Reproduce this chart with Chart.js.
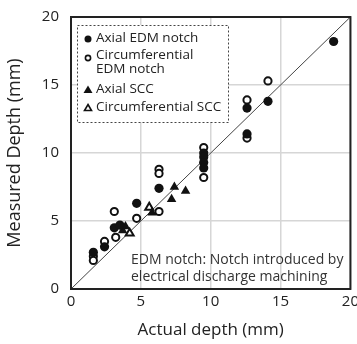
<!DOCTYPE html>
<html>
<head>
<meta charset="utf-8">
<script src="https://cdn.jsdelivr.net/npm/chart.js@4/dist/chart.umd.min.js"></script>
<style>
  html, body { margin: 0; padding: 0; background: #fff; }
  #wrap { width: 357px; height: 344px; position: relative; }
</style>
</head>
<body>
<div id="wrap"><canvas id="chart" width="357" height="344"></canvas></div>
<script>
const FONT = '"Open Sans", "Noto Sans", sans-serif';

// [actual, measured] in mm
const axialEdm = [
  [1.6, 2.7], [2.4, 3.1], [3.1, 4.5], [3.5, 4.7], [4.7, 6.3], [6.3, 7.4],
  [9.5, 10.0], [9.5, 9.7], [9.5, 9.3], [9.5, 8.9], [12.6, 11.4], [12.6, 13.3],
  [14.1, 13.8], [18.8, 18.2]
];
const circEdm = [
  [1.6, 2.4], [1.6, 2.1], [2.4, 3.5], [3.2, 3.8], [3.1, 5.7], [4.7, 5.2],
  [6.3, 5.7], [6.3, 8.8], [6.3, 8.5], [9.5, 10.4], [9.5, 8.2], [12.6, 13.9],
  [12.6, 11.1], [14.1, 15.3]
];
const axialScc = [[3.7, 4.3], [3.9, 4.6], [5.8, 5.6], [7.4, 7.5], [8.2, 7.2], [7.2, 6.6]];
const circScc = [[4.2, 4.1], [5.6, 6.0]];
const refLine = [[0, 0], [20, 20]];

const ticks = [0, 5, 10, 15, 20];
const legendLabels = [['Axial EDM notch'], ['Circumferential', 'EDM notch'], ['Axial SCC'], ['Circumferential SCC']];
const noteLines = ['EDM notch: Notch introduced by', 'electrical discharge machining'];

const pts = arr => arr.map(([x, y]) => ({ x, y }));

const frame = {
  id: 'frame',
  afterDatasetsDraw(chart) {
    const { ctx, chartArea: a } = chart;
    ctx.save();
    // plot border
    ctx.strokeStyle = '#222';
    ctx.lineWidth = 2;
    ctx.strokeRect(a.left, a.top, a.right - a.left, a.bottom - a.top);

    // legend box
    const lx = 77, ly = 25, lw = 151, lh = 97;
    ctx.fillStyle = '#fff';
    ctx.fillRect(lx, ly, lw, lh);
    ctx.setLineDash([2, 2]);
    ctx.lineWidth = 1;
    ctx.strokeStyle = '#444';
    ctx.strokeRect(lx + 0.5, ly + 0.5, lw, lh);
    ctx.setLineDash([]);

    ctx.font = '13.5px ' + FONT;
    ctx.textBaseline = 'middle';
    const rows = [38, 55, 89, 107];
    const mx = 88;
    legendLabels.forEach((lines, i) => {
      const y = rows[i] + (i === 1 ? 3 : 1);
      ctx.fillStyle = '#111';
      ctx.strokeStyle = '#111';
      ctx.lineWidth = 1.6;
      if (i === 0) {
        ctx.beginPath(); ctx.arc(mx, y, 3.5, 0, Math.PI * 2); ctx.fill();
      } else if (i === 1) {
        ctx.beginPath(); ctx.arc(mx, y, 2.6, 0, Math.PI * 2); ctx.stroke();
      } else if (i === 2) {
        ctx.beginPath(); ctx.moveTo(mx, y - 4.5); ctx.lineTo(mx + 4.5, y + 3); ctx.lineTo(mx - 4.5, y + 3); ctx.closePath(); ctx.fill();
      } else {
        ctx.beginPath(); ctx.moveTo(mx, y - 3.5); ctx.lineTo(mx + 3.5, y + 2.5); ctx.lineTo(mx - 3.5, y + 2.5); ctx.closePath(); ctx.stroke();
      }
      ctx.fillStyle = '#222';
      lines.forEach((t, j) => ctx.fillText(t, 96, rows[i] + j * 14));
    });

    // note
    ctx.fillStyle = '#333';
    ctx.font = '14px ' + FONT;
    noteLines.forEach((t, j) => ctx.fillText(t, 131, 260 + j * 17));
    ctx.restore();
  }
};

new Chart(document.getElementById('chart'), {
  type: 'scatter',
  data: {
    datasets: [
      { data: pts(refLine), type: 'line', showLine: true, borderColor: '#444', borderWidth: 1, pointRadius: 0, order: 5 },
      { data: pts(circEdm), pointStyle: 'circle', pointRadius: 3.6, borderWidth: 2, borderColor: '#111', backgroundColor: '#fff', order: 2 },
      { data: pts(axialEdm), pointStyle: 'circle', pointRadius: 4.6, borderWidth: 0, backgroundColor: '#111', order: 1 },
      { data: pts(axialScc), pointStyle: 'triangle', pointRadius: 5.5, borderWidth: 0, backgroundColor: '#111', order: 1 },
      { data: pts(circScc), pointStyle: 'triangle', pointRadius: 4.6, borderWidth: 2, borderColor: '#111', backgroundColor: '#fff', order: 1 }
    ]
  },
  options: {
    responsive: false,
    animation: false,
    devicePixelRatio: 1,
    layout: { padding: { top: 17, right: 4, left: 0, bottom: 0 } },
    plugins: { legend: { display: false }, tooltip: { enabled: false } },
    scales: {
      x: {
        type: 'linear', min: 0, max: 20,
        afterBuildTicks: s => { s.ticks = ticks.map(v => ({ value: v })); },
        afterFit: s => { s.height = 55; s.paddingLeft = 0; s.paddingRight = 0; },
        grid: { color: '#d6d6d6', lineWidth: 1.5, drawTicks: false },
        border: { display: false },
        ticks: { color: '#222', font: { family: FONT, size: 15 }, padding: 4 },
        title: { display: true, text: 'Actual depth (mm)', color: '#222', font: { family: FONT, size: 17 }, padding: { top: 2 } }
      },
      y: {
        type: 'linear', min: 0, max: 20,
        afterBuildTicks: s => { s.ticks = ticks.map(v => ({ value: v })); },
        afterFit: s => { s.width = 71; s.paddingTop = 0; s.paddingBottom = 0; },
        grid: { color: '#d6d6d6', lineWidth: 1.5, drawTicks: false },
        border: { display: false },
        ticks: { color: '#222', font: { family: FONT, size: 15 }, padding: 12 },
        title: { display: true, text: 'Measured Depth (mm)', color: '#222', font: { family: FONT, size: 18 }, padding: { bottom: 2 } }
      }
    }
  },
  plugins: [frame]
});
</script>
</body>
</html>
